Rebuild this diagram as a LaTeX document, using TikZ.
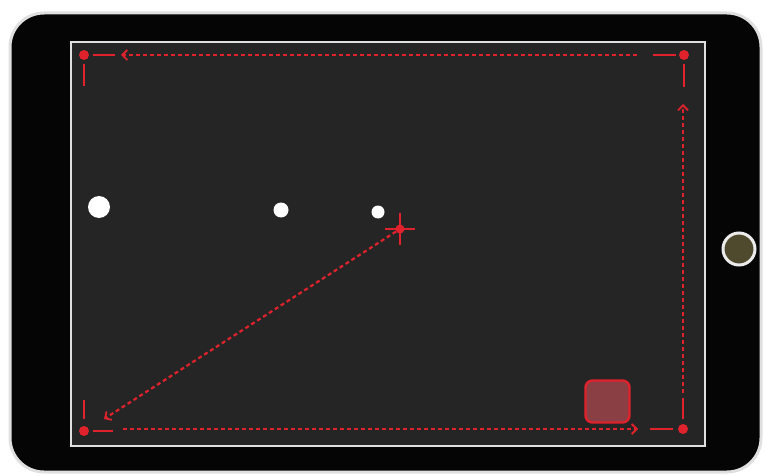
\documentclass[tikz,border=0pt]{standalone}
\usetikzlibrary{arrows.meta, positioning}
\definecolor{screenred}{HTML}{E0222C}
\definecolor{screengray}{HTML}{252525}
\definecolor{bezel}{HTML}{050505}
\definecolor{buttonolive}{HTML}{4F4A2E}
\definecolor{goalfill}{HTML}{8A3F44}
\tikzset{
  corner/.style={
    circle,
    fill=screenred,
    inner sep=0pt,
    minimum size=10pt
  },
  ball/.style={
    circle,
    fill=white,
    inner sep=0pt
  },
  stub/.style={draw=screenred, line width=2.2pt},
  path/.style={draw=screenred, line width=2.2pt, dash pattern=on 4pt off 3pt,
    -{Straight Barb[length=5pt,width=10pt,line width=1.8pt]}},
  target/.style={
    rectangle,
    rounded corners=7pt,
    draw=screenred,
    line width=2.4pt,
    fill=goalfill,
    minimum width=44pt,
    minimum height=42pt
  }
}

\begin{document}
\begin{tikzpicture}[x=1pt,y=-1pt]
\useasboundingbox (0,0) rectangle (766,476);
% tablet body and screen
\draw[fill=bezel, draw=black!12, line width=3pt, rounded corners=34pt] (10,13) rectangle (761,472);
\draw[fill=screengray, draw=black!12, line width=2.4pt] (71,42) rectangle (705,446);
\node[circle, fill=buttonolive, draw=white!92!black, line width=3pt, minimum size=32pt, inner sep=0pt] (homebtn) at (739,249) {};

% corner dots
\node[corner] (tl) at (84,55) {};
\node[corner] (tr) at (684,55) {};
\node[corner] (br) at (683,429) {};
\node[corner] (bl) at (84,431) {};

% balls
\node[ball, minimum size=22pt] (ball1) at (99,207) {};
\node[ball, minimum size=15pt] (ball2) at (281,210) {};
\node[ball, minimum size=13pt] (ball3) at (378,212) {};

% crosshair
\node[corner, minimum size=9pt] (aim) at (400,229) {};
\draw[stub, line width=1.8pt] (385,229) -- (415,229);
\draw[stub, line width=1.8pt] (400,213) -- (400,245);

% target square
\node[target] (goal) at (607.5,401.5) {};

% stubs at the corners
\draw[stub] (93,55) -- (115,55);
\draw[stub] (84,64) -- (84,86);
\draw[stub] (653,55) -- (676,55);
\draw[stub] (684,64) -- (684,87);
\draw[stub] (650,429) -- (673,429);
\draw[stub] (683,398) -- (683,419);
\draw[stub] (93,431) -- (113,431);
\draw[stub] (84,400) -- (84,419);

% path arrows
\coordinate (topstart) at (637,55);
\coordinate (topend) at (121,55);
\coordinate (rightstart) at (683,393);
\coordinate (rightend) at (683,104);
\coordinate (botstart) at (123,429);
\coordinate (botend) at (638,429);
\coordinate (diagend) at (104,419);
\draw[path] (topstart) -- (topend);
\draw[path] (rightstart) -- (rightend);
\draw[path] (botstart) -- (botend);
\draw[path] (aim) -- (diagend);
\end{tikzpicture}
\end{document}
